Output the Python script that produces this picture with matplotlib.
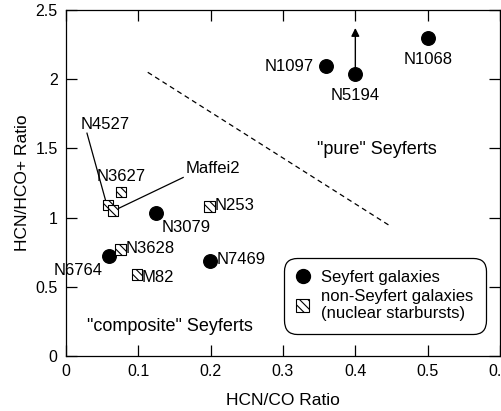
import matplotlib.pyplot as plt
from matplotlib.lines import Line2D
from matplotlib.patches import Patch

plt.rcParams['font.family'] = ['Liberation Sans', 'DejaVu Sans']
plt.rcParams['hatch.linewidth'] = 0.8

# Seyfert-Galaxien (gefüllte Kreise)
sey_names = ['N1068', 'N1097', 'N5194', 'N3079', 'N6764', 'N7469']
sey_x = [0.50, 0.36, 0.40, 0.124, 0.059, 0.199]
sey_y = [2.30, 2.095, 2.04, 1.03, 0.72, 0.69]

# Nicht-Seyfert-Galaxien (schraffierte Quadrate)
sb_names = ['N3627', 'N4527', 'Maffei2', 'N253', 'N3628', 'M82']
sb_x = [0.076, 0.058, 0.065, 0.198, 0.075, 0.098]
sb_y = [1.185, 1.09, 1.05, 1.08, 0.77, 0.59]

# Trennlinie zwischen "pure" und "composite"
div_x = [0.113, 0.448]
div_y = [2.05, 0.94]

fig = plt.figure(figsize=(5.02, 4.11), dpi=100)
ax = fig.add_axes([66 / 502, 55 / 411, 434 / 502, 346 / 411])

ax.plot(div_x, div_y, color='black', linestyle=(0, (4, 3)), linewidth=0.9)

# Pfeil an N5194 (untere Grenze)
ax.annotate('', xy=(0.40, 2.37), xytext=(0.40, 2.04),
            arrowprops=dict(arrowstyle='-|>', color='black', lw=1.0,
                            mutation_scale=12, shrinkA=0, shrinkB=0))

ax.scatter(sey_x, sey_y, s=95, color='black', zorder=3)
ax.scatter(sb_x, sb_y, s=58, marker='s', facecolor='white', edgecolor='black',
           hatch='\\\\\\\\', linewidth=0.8, zorder=3)

fs = 12
lab = dict(fontsize=fs, color='black')
ax.text(0.342, 2.095, 'N1097', ha='right', va='center', **lab)
ax.text(0.40, 1.94, 'N5194', ha='center', va='top', **lab)
ax.text(0.50, 2.20, 'N1068', ha='center', va='top', **lab)
ax.text(0.132, 0.985, 'N3079', ha='left', va='top', **lab)
ax.text(0.050, 0.67, 'N6764', ha='right', va='top', **lab)
ax.text(0.208, 0.70, 'N7469', ha='left', va='center', **lab)
ax.text(0.076, 1.24, 'N3627', ha='center', va='bottom', **lab)
ax.text(0.205, 1.09, 'N253', ha='left', va='center', **lab)
ax.text(0.082, 0.78, 'N3628', ha='left', va='center', **lab)
ax.text(0.104, 0.57, 'M82', ha='left', va='center', **lab)
ax.text(0.02, 1.62, 'N4527', ha='left', va='bottom', **lab)
ax.text(0.166, 1.30, 'Maffei2', ha='left', va='bottom', **lab)

# Verbindungslinien zu den Beschriftungen
ax.plot([0.029, 0.056], [1.61, 1.10], color='black', linewidth=0.9)
ax.plot([0.070, 0.162], [1.06, 1.29], color='black', linewidth=0.9)

ax.text(0.43, 1.49, '"pure" Seyferts', ha='center', va='center', fontsize=13)
ax.text(0.144, 0.21, '"composite" Seyferts', ha='center', va='center', fontsize=13)

handles = [
    Line2D([], [], marker='o', color='black', linestyle='none', markersize=10),
    Patch(facecolor='white', edgecolor='black', hatch='\\\\\\\\', linewidth=0.8),
]
leg = ax.legend(handles, ['Seyfert galaxies', 'non-Seyfert galaxies\n(nuclear starbursts)'],
                loc='lower left', bbox_to_anchor=(0.49, 0.05), fontsize=12,
                frameon=True, fancybox=True, edgecolor='black', framealpha=1,
                handlelength=0.8, handleheight=0.8, handletextpad=0.7,
                labelspacing=0.2, borderpad=0.55)
leg.get_frame().set_linewidth(0.9)
leg.get_frame().set_boxstyle('round,pad=0.2,rounding_size=0.8')

ax.set_xlim(0, 0.6)
ax.set_ylim(0, 2.5)
ax.set_xticks([0, 0.1, 0.2, 0.3, 0.4, 0.5, 0.6])
ax.set_xticklabels(['0', '0.1', '0.2', '0.3', '0.4', '0.5', '0.6'])
ax.set_yticks([0, 0.5, 1, 1.5, 2, 2.5])
ax.set_yticklabels(['0', '0.5', '1', '1.5', '2', '2.5'])
ax.tick_params(direction='in', length=8, width=0.9, top=True, right=True,
               labelsize=11.5, pad=6)
for sp in ax.spines.values():
    sp.set_linewidth(0.9)

ax.set_xlabel('HCN/CO Ratio', fontsize=12.5, labelpad=10)
ax.set_ylabel('HCN/HCO+ Ratio', fontsize=12.5, labelpad=4)

fig.savefig('out.png', dpi=100)
